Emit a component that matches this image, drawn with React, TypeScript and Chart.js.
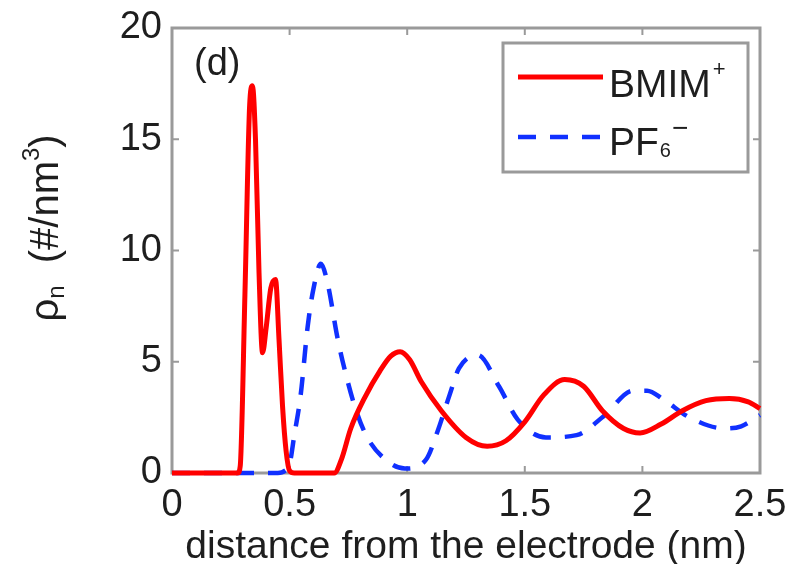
import React, { useEffect, useRef } from "react";
import { Chart, registerables } from "chart.js";

Chart.register(...registerables);

// ---- data ----
const bmimX = [0, 0.28, 0.29, 0.31, 0.33, 0.342, 0.355, 0.37, 0.385, 0.4, 0.42, 0.44, 0.455, 0.47, 0.485, 0.5, 0.52, 0.69, 0.72, 0.76, 0.82, 0.885, 0.93, 0.97, 1.01, 1.06, 1.145, 1.25, 1.34, 1.42, 1.5, 1.58, 1.67, 1.75, 1.83, 1.92, 1.99, 2.08, 2.17, 2.27, 2.37, 2.45, 2.5];
const bmimY = [0, 0, 0.3, 8, 16.5, 17.4, 15, 9, 5.4, 6.5, 8.3, 8.7, 6, 3, 1, 0.1, 0, 0, 0.6, 2.0, 3.4, 4.6, 5.25, 5.45, 5.1, 4.1, 2.8, 1.6, 1.2, 1.45, 2.3, 3.5, 4.2, 3.9, 2.8, 2.0, 1.8, 2.2, 2.8, 3.25, 3.35, 3.2, 2.9];
const pf6X = [0, 0.45, 0.48, 0.5, 0.52, 0.547, 0.577, 0.6, 0.633, 0.66, 0.705, 0.74, 0.78, 0.83, 0.92, 0.99, 1.08, 1.13, 1.18, 1.22, 1.3, 1.39, 1.47, 1.59, 1.72, 1.84, 1.96, 2.02, 2.09, 2.2, 2.35, 2.42, 2.5];
const pf6Y = [0, 0, 0.1, 0.4, 1.7, 3.5, 6.6, 8.2, 9.4, 8.6, 6.0, 4.4, 2.9, 1.6, 0.5, 0.2, 0.6, 1.9, 3.5, 4.7, 5.3, 3.9, 2.4, 1.6, 1.7, 2.6, 3.7, 3.7, 3.3, 2.5, 2.0, 2.1, 2.6];
const xTicks = [0, 0.5, 1, 1.5, 2, 2.5];
const yTicks = [0, 5, 10, 15, 20];
const seriesNames = ["BMIM", "PF"];
const panelLabel = "(d)";
const xTitle = "distance from the electrode (nm)";

const FONT = "'Liberation Sans', Arial, Helvetica, sans-serif";
const TEXT = "#1e1e1e";
const RED = "#ff0000";
const BLUE = "#1030ff";
const FRAME = "#9a9a9a";

const framePlugin = {
  id: "frame",
  beforeDatasetsDraw(chart: any) {
    const { ctx, chartArea: a, scales } = chart;
    ctx.save();
    ctx.strokeStyle = FRAME;
    ctx.lineWidth = 3;
    ctx.strokeRect(a.left, a.top, a.right - a.left, a.bottom - a.top);
    ctx.lineWidth = 2;
    const tl = 7;
    xTicks.forEach((v) => {
      const px = scales.x.getPixelForValue(v);
      ctx.beginPath();
      ctx.moveTo(px, a.bottom);
      ctx.lineTo(px, a.bottom - tl);
      ctx.moveTo(px, a.top);
      ctx.lineTo(px, a.top + tl);
      ctx.stroke();
    });
    yTicks.forEach((v) => {
      const py = scales.y.getPixelForValue(v);
      ctx.beginPath();
      ctx.moveTo(a.left, py);
      ctx.lineTo(a.left + tl, py);
      ctx.moveTo(a.right, py);
      ctx.lineTo(a.right - tl, py);
      ctx.stroke();
    });
    ctx.restore();
  },
  afterDatasetsDraw(chart: any) {
    const { ctx, chartArea: a } = chart;
    ctx.save();
    // panel label
    ctx.fillStyle = TEXT;
    ctx.font = `38px ${FONT}`;
    ctx.textBaseline = "middle";
    ctx.textAlign = "left";
    ctx.fillText(panelLabel, a.left + 22, a.top + 37);

    // legend box
    const bx = 503, by = 43, bw = 245, bh = 129;
    ctx.fillStyle = "#ffffff";
    ctx.fillRect(bx, by, bw, bh);
    ctx.strokeStyle = FRAME;
    ctx.lineWidth = 3;
    ctx.strokeRect(bx, by, bw, bh);

    const ds = chart.data.datasets;
    const rows = [77, 137];
    rows.forEach((ry, i) => {
      ctx.beginPath();
      ctx.strokeStyle = ds[i].borderColor;
      ctx.lineWidth = ds[i].borderWidth;
      ctx.setLineDash(ds[i].borderDash || []);
      ctx.moveTo(518, ry);
      ctx.lineTo(603, ry);
      ctx.stroke();
      ctx.setLineDash([]);
    });
    ctx.fillStyle = TEXT;
    ctx.textAlign = "left";
    ctx.textBaseline = "alphabetic";
    // BMIM+
    let tx = 609;
    ctx.font = `39px ${FONT}`;
    ctx.fillText(seriesNames[0], tx, 97);
    tx += ctx.measureText(seriesNames[0]).width + 2;
    ctx.font = `22px ${FONT}`;
    ctx.fillText("+", tx, 76);
    // PF6-
    tx = 609;
    ctx.font = `39px ${FONT}`;
    ctx.fillText(seriesNames[1], tx, 155);
    tx += ctx.measureText(seriesNames[1]).width + 1;
    ctx.font = `20px ${FONT}`;
    ctx.fillText("6", tx, 157);
    tx += ctx.measureText("6").width + 1;
    ctx.font = `28px ${FONT}`;
    ctx.fillText("\u2212", tx, 137);

    // y title (rotated)
    ctx.translate(47, 228);
    ctx.rotate(-Math.PI / 2);
    const parts: [string, number, number][] = [
      ["\u03c1", 40, 0],
      ["n", 24, 10],
      ["  (#/nm", 40, 0],
      ["3", 24, -15],
      [")", 40, 0],
    ];
    let total = 0;
    parts.forEach(([s, f]) => {
      ctx.font = `${f}px ${FONT}`;
      total += ctx.measureText(s).width;
    });
    let cx = -total / 2;
    ctx.textBaseline = "middle";
    parts.forEach(([s, f, dy]) => {
      ctx.font = `${f}px ${FONT}`;
      ctx.fillText(s, cx, dy);
      cx += ctx.measureText(s).width;
    });
    ctx.restore();
  },
};

export default function App() {
  const ref = useRef<HTMLCanvasElement>(null);
  useEffect(() => {
    if (!ref.current) return;
    const chart = new Chart(ref.current, {
      type: "line",
      data: {
        datasets: [
          {
            label: "BMIM+",
            data: bmimX.map((x, i) => ({ x, y: bmimY[i] })),
            borderColor: RED,
            borderWidth: 5,
            pointRadius: 0,
            cubicInterpolationMode: "monotone",
            fill: false,
            clip: 6,
          },
          {
            label: "PF6-",
            data: pf6X.map((x, i) => ({ x, y: pf6Y[i] })),
            borderColor: BLUE,
            borderWidth: 4.5,
            borderDash: [18, 14],
            pointRadius: 0,
            cubicInterpolationMode: "monotone",
            fill: false,
            clip: 6,
          },
        ],
      },
      options: {
        responsive: false,
        animation: false,
        layout: { padding: { left: 0, top: 28, right: 29, bottom: 0 } },
        plugins: { legend: { display: false }, tooltip: { enabled: false } },
        scales: {
          x: {
            type: "linear",
            min: 0,
            max: 2.5,
            afterBuildTicks: (s: any) => {
              s.ticks = xTicks.map((v) => ({ value: v }));
            },
            ticks: {
              font: { size: 38, family: FONT },
              color: TEXT,
              padding: 10,
              maxRotation: 0,
              autoSkip: false,
              callback: (v: any) => String(v),
            },
            grid: { display: false, drawTicks: false },
            border: { display: false },
            title: {
              display: true,
              text: xTitle,
              font: { size: 39, family: FONT },
              color: TEXT,
              padding: { top: 0, bottom: -7 },
            },
            afterFit: (s: any) => {
              s.height = 91;
              s.paddingLeft = 0;
              s.paddingRight = 0;
            },
          },
          y: {
            type: "linear",
            min: 0,
            max: 20,
            afterBuildTicks: (s: any) => {
              s.ticks = yTicks.map((v) => ({ value: v }));
            },
            ticks: {
              font: { size: 38, family: FONT },
              color: TEXT,
              padding: 10,
            },
            grid: { display: false, drawTicks: false },
            border: { display: false },
            afterFit: (s: any) => {
              s.width = 172;
              s.paddingTop = 0;
              s.paddingBottom = 0;
            },
          },
        },
      },
      plugins: [framePlugin],
    } as any);
    return () => chart.destroy();
  }, []);
  return (
    <div style={{ position: "fixed", left: 0, top: 0, width: 789, height: 564, background: "#fff" }}>
      <canvas ref={ref} width={789} height={564} />
    </div>
  );
}
